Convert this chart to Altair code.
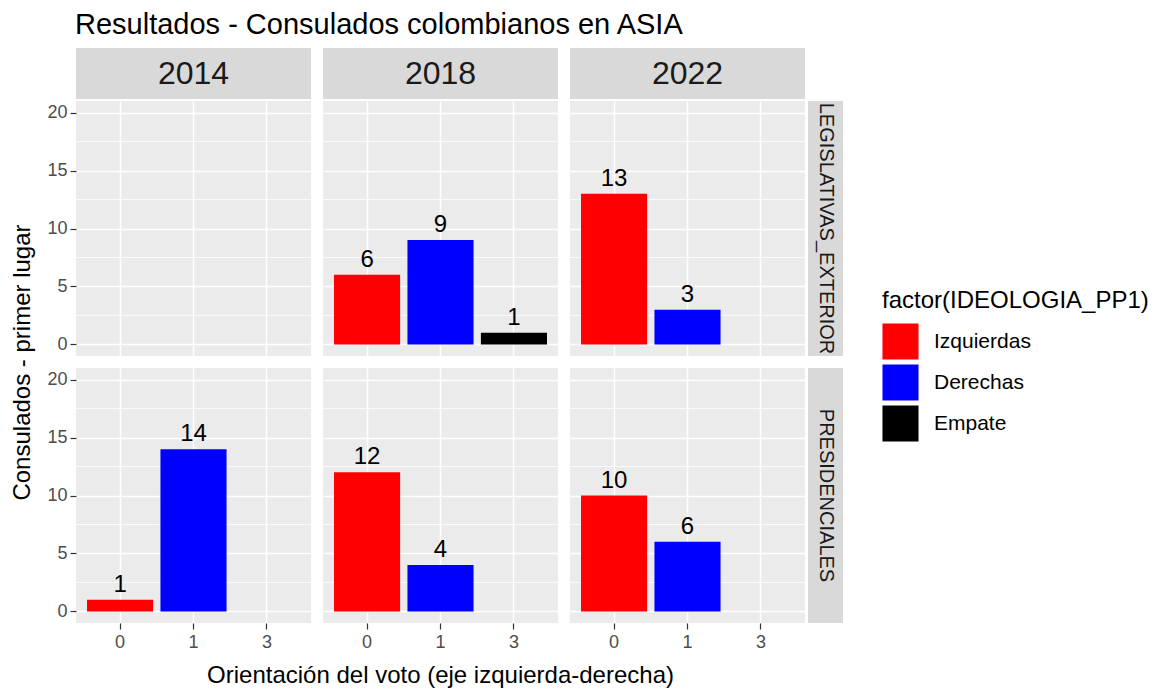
import altair as alt
import pandas as pd

TITULO = "Resultados - Consulados colombianos en ASIA"
TITULO_X = "Orientación del voto (eje izquierda-derecha)"
TITULO_Y = "Consulados - primer lugar"
TITULO_LEYENDA = "factor(IDEOLOGIA_PP1)"

anios = [2014, 2018, 2022]
elecciones = ["LEGISLATIVAS_EXTERIOR", "PRESIDENCIALES"]
orientaciones = ["0", "1", "3"]
ideologias = ["Izquierdas", "Derechas", "Empate"]
colores = ["#FF0000", "#0000FF", "#000000"]

reg_eleccion = ["LEGISLATIVAS_EXTERIOR"] * 5 + ["PRESIDENCIALES"] * 6
reg_anio = [2018, 2018, 2018, 2022, 2022, 2014, 2014, 2018, 2018, 2022, 2022]
reg_orient = ["0", "1", "3", "0", "1", "0", "1", "0", "1", "0", "1"]
reg_ideol = ["Izquierdas", "Derechas", "Empate", "Izquierdas", "Derechas",
             "Izquierdas", "Derechas", "Izquierdas", "Derechas", "Izquierdas", "Derechas"]
reg_consulados = [6, 9, 1, 13, 3, 1, 14, 12, 4, 10, 6]

y_ticks = [0, 5, 10, 15, 20]
y_minor = [2.5, 7.5, 12.5, 17.5]
y_dominio = [-1, 21]

df = pd.DataFrame({
    "eleccion": reg_eleccion,
    "anio": reg_anio,
    "orientacion": reg_orient,
    "ideologia": reg_ideol,
    "consulados": reg_consulados,
})

W, H = 235, 255
FONT = "Liberation Sans"
STRIP = "#D9D9D9"

xscale = alt.Scale(domain=orientaciones, paddingInner=0.1, paddingOuter=0.15)
yscale = alt.Scale(domain=y_dominio, nice=False, zero=False)


def panel(r, c):
    el = elecciones[r]
    an = anios[c]
    sub = df[(df.eleccion == el) & (df.anio == an)]
    bottom = r == 1
    left = c == 0

    x_axis = alt.Axis(title=None, labels=bottom, ticks=bottom, domain=False, grid=True,
                      bandPosition=0.5, labelAngle=0, labelFontSize=18,
                      labelColor="#4D4D4D", tickColor="#333333", tickSize=6,
                      tickWidth=1.2, labelPadding=4, gridColor="white", gridWidth=1.5)
    y_axis = alt.Axis(title=None, labels=left, ticks=left, domain=False, grid=True,
                      values=y_ticks, labelFontSize=18, labelColor="#4D4D4D",
                      tickColor="#333333", tickSize=6, tickWidth=1.2, labelPadding=3,
                      gridColor="white", gridWidth=1.5)

    if r == 0 and c == 2:
        legend = alt.Legend(title=TITULO_LEYENDA, orient="none", legendX=312, legendY=188,
                            symbolType="square", symbolSize=1300, symbolStrokeWidth=0,
                            symbolOpacity=1, titleFontSize=24, titleFontWeight="normal",
                            titleColor="black", titleLimit=400, labelLimit=300,
                            labelFontSize=21, labelColor="black",
                            rowPadding=4, labelOffset=15, titlePadding=10)
    else:
        legend = None

    minor = alt.Chart(pd.DataFrame({"y": y_minor})).mark_rule(
        color="white", strokeWidth=0.8
    ).encode(y=alt.Y("y:Q", scale=yscale, axis=y_axis))

    base = alt.Chart(sub)
    bars = base.mark_bar().encode(
        x=alt.X("orientacion:N", scale=xscale, axis=x_axis),
        y=alt.Y("consulados:Q", scale=yscale, axis=y_axis),
        color=alt.Color("ideologia:N", scale=alt.Scale(domain=ideologias, range=colores),
                        legend=legend),
    )
    labels = base.mark_text(baseline="alphabetic", dy=-8, fontSize=24, color="black").encode(
        x=alt.X("orientacion:N", scale=xscale),
        y=alt.Y("consulados:Q", scale=yscale),
        text="consulados:Q",
    )
    layers = [minor, bars, labels]

    if r == 0:
        d = pd.DataFrame({"lab": [str(an)]})
        layers.append(alt.Chart(d).mark_rect(color=STRIP).encode(
            x=alt.value(0), x2=alt.value(W), y=alt.value(-53), y2=alt.value(-2)))
        layers.append(alt.Chart(d).mark_text(fontSize=32, color="#1A1A1A", baseline="middle").encode(
            x=alt.value(W / 2), y=alt.value(-27), text="lab:N"))
    if c == 2:
        d = pd.DataFrame({"lab": [el]})
        layers.append(alt.Chart(d).mark_rect(color=STRIP).encode(
            x=alt.value(W + 3), x2=alt.value(W + 38), y=alt.value(0), y2=alt.value(H)))
        layers.append(alt.Chart(d).mark_text(fontSize=20, color="#1A1A1A", angle=90,
                                             baseline="middle").encode(
            x=alt.value(W + 20.5), y=alt.value(H / 2), text="lab:N"))
    if r == 1 and c == 0:
        d = pd.DataFrame({"lab": [TITULO_Y]})
        layers.append(alt.Chart(d).mark_text(fontSize=24, color="black", angle=270,
                                             baseline="middle").encode(
            x=alt.value(-53), y=alt.value(-5.5), text="lab:N"))
    if r == 1 and c == 1:
        d = pd.DataFrame({"lab": [TITULO_X]})
        layers.append(alt.Chart(d).mark_text(fontSize=24, color="black",
                                             baseline="middle").encode(
            x=alt.value(W / 2), y=alt.value(308), text="lab:N"))

    return alt.layer(*layers).properties(width=W, height=H)


panels = [panel(r, c) for r in range(2) for c in range(3)]

chart = alt.concat(*panels, columns=3, spacing=12, bounds="flush").resolve_scale(
    color="independent"
).properties(
    title=alt.TitleParams(TITULO, anchor="start", fontSize=29, fontWeight="normal",
                          color="black", offset=8, dx=64, font=FONT),
    padding={"left": 2, "top": 3, "right": 5, "bottom": 5},
).configure(
    font=FONT,
).configure_view(
    fill="#EBEBEB", stroke=None
)

chart.save("out.html", embed_options={"renderer": "svg", "actions": False})
